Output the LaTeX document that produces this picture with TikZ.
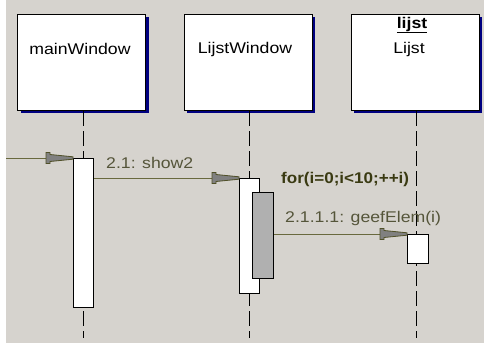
\documentclass[tikz,border=0pt]{standalone}
\usepackage{fontspec}
\setmainfont{Liberation Sans}
\usetikzlibrary{shadows}

\definecolor{panel}{RGB}{214,211,206}
\definecolor{shadowblue}{RGB}{0,0,128}
\definecolor{msgline}{RGB}{105,105,62}
\definecolor{headfill}{RGB}{128,128,128}
\definecolor{headedge}{RGB}{80,80,40}
\definecolor{labelcol}{RGB}{85,85,58}
\definecolor{loopcol}{RGB}{58,58,18}
\definecolor{nestfill}{RGB}{176,176,176}

\tikzset{
  objbox/.style={draw=black, line width=1pt, fill=white, inner sep=0pt,
    minimum width=128pt, minimum height=96pt, anchor=north west,
    drop shadow={shadow xshift=3pt, shadow yshift=-3pt, fill=shadowblue, opacity=1}},
  objtext/.style={inner sep=0pt, font=\fontsize{15.5}{18}\selectfont, xscale=1.14, transform shape},
  lifeline/.style={draw=black, line width=1pt, dash pattern=on 15pt off 5pt},
  actbox/.style={draw=black, line width=1pt, fill=white, inner sep=0pt, anchor=north west},
  msg/.style={draw=msgline, line width=1pt},
  msgtext/.style={inner sep=0pt, anchor=west, text=labelcol,
    font=\fontsize{15.5}{18}\selectfont, xscale=1.14, transform shape},
  looptext/.style={inner sep=0pt, anchor=west, text=loopcol,
    font=\bfseries\fontsize{15.5}{18}\selectfont, xscale=1.1, transform shape},
  msghead/.pic={
    \filldraw[fill=headfill, draw=headedge, line width=0.8pt]
      (0,-1.2) -- (-8,-2) -- (-23,-3.5) -- (-23,-5.5) -- (-27,-5.5)
      -- (-27,5.5) -- (-23,5.5) -- (-23,3.5) -- (-8,2) -- (0,1.2) -- cycle;
  }
}

\begin{document}
\begin{tikzpicture}[x=1pt,y=-1pt]
  \useasboundingbox (0,0) rectangle (484,350);
  \fill[white] (0,0) rectangle (484,350);
  \fill[panel] (6,0) rectangle (484,343);

  % object heads
  \node[objbox] (mw) at (17,14) {};
  \node[objbox] (lw) at (183.5,14) {};
  \node[objbox] (li) at (350.5,14) {};
  \node[objtext] (mwName) at (80,49) {mainWindow};
  \node[objtext] (lwName) at (245,49) {LijstWindow};
  \node[objtext] (liInst) at (412,25) {\underline{\textbf{lijst}}};
  \node[objtext] (liName) at (409,49) {Lijst};

  % lifeline ends
  \coordinate (mwEnd) at (83,338);
  \coordinate (lwEnd) at (249,338);
  \coordinate (liEnd) at (416,338);
  \draw[lifeline] (mw.south -| mwEnd) -- (mwEnd);
  \draw[lifeline] (lw.south -| lwEnd) -- (lwEnd);
  \draw[lifeline] (li.south -| liEnd) -- (liEnd);

  % activations
  \node[actbox, minimum width=20pt, minimum height=149pt] (mwAct) at (73,158) {};
  \node[actbox, minimum width=20pt, minimum height=115pt] (lwAct) at (239,178) {};
  \node[actbox, fill=nestfill, minimum width=21pt, minimum height=86pt] (lwNest) at (252,192) {};
  \node[actbox, minimum width=21pt, minimum height=29pt] (liAct) at (407,234) {};

  % messages
  \coordinate (caller) at (6,158);
  \draw[msg] (caller) -- (mwAct.north west);
  \pic at (mwAct.north west) {msghead};

  \draw[msg] (mwAct.east |- lwAct.north) -- (lwAct.north west);
  \pic at (lwAct.north west) {msghead};

  \draw[msg] (lwNest.east |- liAct.north) -- (liAct.north west);
  \pic at (liAct.north west) {msghead};

  % labels
  \node[msgtext] (show2) at (106,163) {2.1: show2};
  \node[looptext] (loop) at (281,179) {for(i=0;i<10;++i)};
  \node[msgtext] (geef) at (285,218) {2.1.1.1: geefElem(i)};
\end{tikzpicture}
\end{document}
